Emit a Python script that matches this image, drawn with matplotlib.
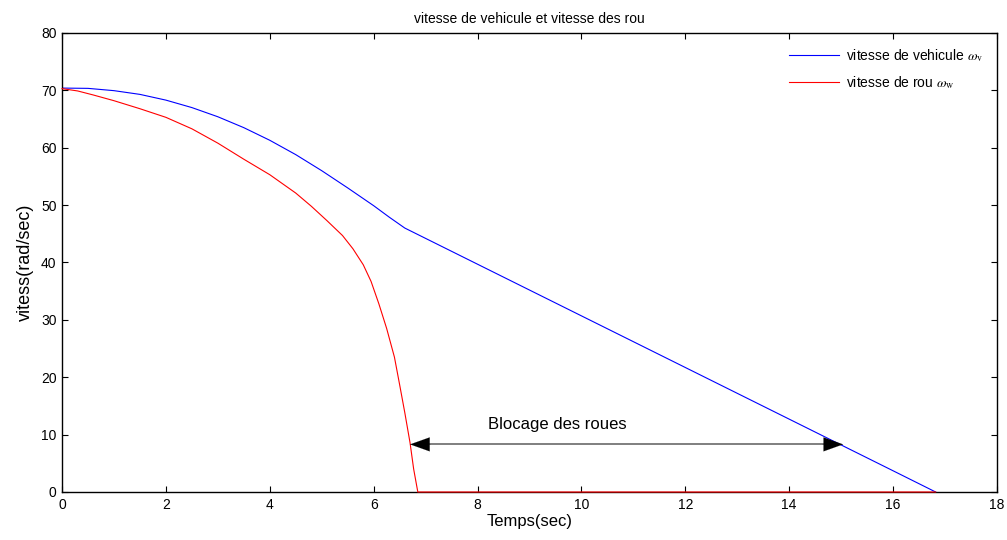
import numpy as np
import matplotlib
matplotlib.use('Agg')
import matplotlib.pyplot as plt

plt.rcParams['font.family'] = ['Liberation Sans', 'DejaVu Sans']
plt.rcParams['mathtext.fontset'] = 'stix'

### data: vehicle speed and wheel speed during braking
t_veh = [0, 0.5, 1.0, 1.5, 2.0, 2.5, 3.0, 3.5, 4.0, 4.5, 5.0, 5.5, 6.0, 6.3, 6.6,
         8.0, 10.0, 12.0, 14.0, 16.0, 16.82]
w_veh = [70.4, 70.35, 69.95, 69.3, 68.3, 67.0, 65.4, 63.5, 61.3, 58.8, 56.0, 53.0, 49.9, 47.9, 46.0,
         39.7, 30.7, 21.7, 12.7, 3.7, 0.0]

t_wheel = [0, 0.3, 0.6, 1.0, 1.5, 2.0, 2.5, 3.0, 3.5, 4.0, 4.5, 4.8, 5.1, 5.4, 5.6, 5.8,
           5.95, 6.1, 6.25, 6.4, 6.5, 6.6, 6.7, 6.77, 6.85, 8.0, 10.0, 12.0, 14.0, 16.0, 16.82]
w_wheel = [70.3, 69.9, 69.2, 68.2, 66.8, 65.3, 63.3, 60.8, 58.0, 55.3, 52.1, 49.8, 47.3, 44.7, 42.4, 39.6,
           36.7, 32.8, 28.5, 23.5, 18.7, 13.8, 8.6, 4.0, 0.0, 0.0, 0.0, 0.0, 0.0, 0.0, 0.0]

# wheel lock interval (start, end, level)
lock_t0, lock_t1, lock_w = 6.70, 15.04, 8.3

fig = plt.figure(figsize=(10.07, 5.40), dpi=100)
ax = fig.add_axes([0.0616, 0.0889, 0.9284, 0.85])

ax.plot(t_veh, w_veh, color='#0000ff', lw=0.8, label=r'vitesse de vehicule $\omega_{\rm v}$')
ax.plot(t_wheel, w_wheel, color='#ff0000', lw=0.8, label=r'vitesse de rou $\omega_{\rm w}$',
        zorder=3, clip_on=False)

# double arrow for wheel lock
ax.plot([lock_t0 + 0.25, lock_t1 - 0.25], [lock_w, lock_w], color='#7f7f7f', lw=1.4)
for xa, xb in [(lock_t0 + 0.4, lock_t0), (lock_t1 - 0.4, lock_t1)]:
    ax.annotate('', xy=(xb, lock_w), xytext=(xa, lock_w),
                arrowprops=dict(arrowstyle='-|>,head_length=1.4,head_width=0.5',
                                color='black', lw=0.1, mutation_scale=10, shrinkA=0, shrinkB=0))
ax.text(9.53, 11.8, 'Blocage des roues', fontsize=12, ha='center', va='center')

ax.set_xlim(0, 18)
ax.set_ylim(0, 80)
ax.set_xticks(np.arange(0, 19, 2))
ax.set_yticks(np.arange(0, 81, 10))
ax.tick_params(direction='in', top=True, right=True, length=4, width=0.8, labelsize=10, pad=4)
for s in ax.spines.values():
    s.set_linewidth(1.0)

ax.set_title('vitesse de vehicule et vitesse des rou', fontsize=10, pad=7)
ax.set_xlabel('Temps(sec)', fontsize=12, labelpad=2)
ax.set_ylabel('vitess(rad/sec)', fontsize=13, labelpad=5)

leg = ax.legend(loc='upper right', frameon=False, fontsize=10, handlelength=3.6,
                labelspacing=0.75, borderaxespad=0.6, handletextpad=0.5)

plt.savefig('out.png', dpi=100)
